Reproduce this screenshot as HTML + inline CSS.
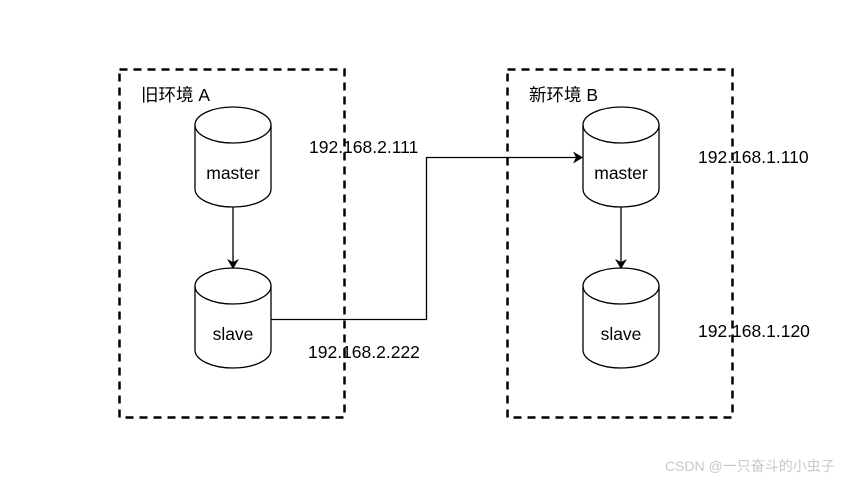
<!DOCTYPE html>
<html><head><meta charset="utf-8"><style>
body{margin:0;background:#fff;width:866px;height:481px;overflow:hidden}
text{font-family:"Liberation Sans","Noto Sans CJK SC",sans-serif;font-size:17.5px;fill:#000}
</style></head><body>
<svg width="866" height="481" viewBox="0 0 866 481" xmlns="http://www.w3.org/2000/svg">
<rect x="119.5" y="69.5" width="225" height="348" fill="none" stroke="#000" stroke-width="2.5" stroke-dasharray="8,6"/>
<rect x="507.5" y="69.5" width="225" height="348" fill="none" stroke="#000" stroke-width="2.5" stroke-dasharray="8,6"/>
<g fill="#fff" stroke="#000" stroke-width="1.3">
<path d="M195,125 a38,18 0 0 1 76,0 v64 a38,18 0 0 1 -76,0 z"/><path d="M195,125 a38,18 0 0 0 76,0" fill="none"/>
<path d="M195,286 a38,18 0 0 1 76,0 v64 a38,18 0 0 1 -76,0 z"/><path d="M195,286 a38,18 0 0 0 76,0" fill="none"/>
<path d="M583,125 a38,18 0 0 1 76,0 v64 a38,18 0 0 1 -76,0 z"/><path d="M583,125 a38,18 0 0 0 76,0" fill="none"/>
<path d="M583,286 a38,18 0 0 1 76,0 v64 a38,18 0 0 1 -76,0 z"/><path d="M583,286 a38,18 0 0 0 76,0" fill="none"/>
</g>
<g stroke="#000" stroke-width="1.3" fill="none">
<path d="M233,207 V262"/><path d="M621,207 V262"/>
<path d="M271,319.5 H426.5 V157.5 H576"/>
</g>
<g fill="#000">
<path d="M227,259 L233,269 L239,259 L233,262 z"/>
<path d="M615,259 L621,269 L627,259 L621,262 z"/>
<path d="M573,151.5 L583,157.5 L573,163.5 L576,157.5 z"/>
</g>
<text x="141" y="101">旧环境 A</text>
<text x="529" y="101">新环境 B</text>
<text x="233" y="179" text-anchor="middle">master</text>
<text x="233" y="340" text-anchor="middle">slave</text>
<text x="621" y="179" text-anchor="middle">master</text>
<text x="621" y="340" text-anchor="middle">slave</text>
<text x="309" y="153">192.168.2.111</text>
<text x="308" y="358">192.168.2.222</text>
<text x="698" y="163">192.168.1.110</text>
<text x="698" y="337">192.168.1.120</text>
<text x="665" y="471" style="font-size:14px;fill:#c8c8c8">CSDN @一只奋斗的小虫子</text>
</svg>
</body></html>
